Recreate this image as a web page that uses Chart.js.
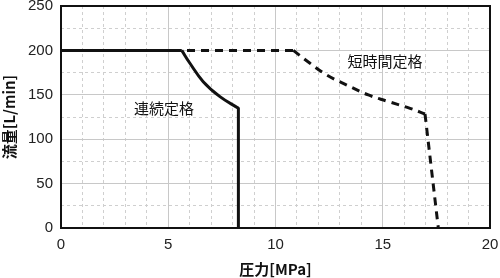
<!DOCTYPE html>
<html lang="ja">
<head>
  <meta charset="UTF-8" />
  <title>流量-圧力</title>
  <script src="https://cdn.jsdelivr.net/npm/chart.js"></script>
  <style>
    html, body { margin: 0; padding: 0; background: #fff; }
    #wrap { width: 500px; height: 278px; }
  </style>
</head>
<body>
<div id="wrap"><canvas id="chart" width="500" height="278"></canvas></div>
<script>
  // 連続定格 (continuous rating): flat part, curved part, drop
  const contFlatX = [0, 5.63];
  const contFlatY = [200, 200];
  const contCurveX = [5.63, 6.01, 6.63, 7.41, 8.27];
  const contCurveY = [200, 185.5, 164.8, 147.9, 134.8];
  const contDropX = [8.27, 8.27];
  const contDropY = [134.8, 0];
  // 短時間定格 (short-time rating)
  const shortFlatX = [0, 10.83];
  const shortFlatY = [200, 200];
  const shortCurveX = [10.83, 11.61, 12.39, 13.32, 14.33, 15.18, 16.27, 16.97];
  const shortCurveY = [200, 185.5, 172.3, 161, 149.8, 143, 134.8, 128.4];
  const shortDropX = [16.97, 17.59];
  const shortDropY = [128.4, 0];

  const xTicks = [0, 5, 10, 15, 20];
  const yTicks = [0, 50, 100, 150, 200, 250];
  const notes = [
    { text: '連続定格', x: 4.8, y: 135 },
    { text: '短時間定格', x: 15.1, y: 188 }
  ];

  const toPts = (xs, ys) => xs.map((x, i) => ({ x: x, y: ys[i] }));
  const tickFont = { family: 'Liberation Sans, Arial, sans-serif', size: 15 };
  const titleFont = { family: 'Noto Sans CJK JP, sans-serif', size: 15, weight: 'bold' };
  const noPad = s => { s.paddingTop = 0; s.paddingBottom = 0; s.paddingLeft = 0; s.paddingRight = 0; };

  const line = (xs, ys, dashed, tension) => ({
    data: toPts(xs, ys),
    showLine: true,
    borderColor: '#111',
    borderWidth: 3,
    borderDash: dashed ? [8, 6] : [],
    borderCapStyle: 'butt',
    borderJoinStyle: 'round',
    pointRadius: 0,
    tension: tension
  });

  // frame + text notes
  const framePlugin = {
    id: 'frame',
    afterDatasetsDraw(chart) {
      const { ctx, chartArea: a, scales } = chart;
      ctx.save();
      ctx.strokeStyle = '#111';
      ctx.lineWidth = 2;
      ctx.strokeRect(a.left, a.top, a.right - a.left, a.bottom - a.top);
      ctx.fillStyle = '#111';
      ctx.font = '15px "Noto Sans CJK JP", sans-serif';
      ctx.textAlign = 'center';
      ctx.textBaseline = 'middle';
      notes.forEach(n => ctx.fillText(n.text, scales.x.getPixelForValue(n.x), scales.y.getPixelForValue(n.y)));
      ctx.restore();
    }
  };

  new Chart(document.getElementById('chart'), {
    type: 'scatter',
    data: {
      datasets: [
        line(shortFlatX, shortFlatY, true, 0),
        line(shortCurveX, shortCurveY, true, 0.4),
        line(shortDropX, shortDropY, true, 0),
        line(contFlatX, contFlatY, false, 0),
        line(contCurveX, contCurveY, false, 0.4),
        line(contDropX, contDropY, false, 0)
      ]
    },
    options: {
      responsive: false,
      animation: false,
      layout: { padding: { top: 6, right: 10, left: 0, bottom: 0 } },
      plugins: { legend: { display: false }, tooltip: { enabled: false } },
      scales: {
        xMinor: {
          type: 'linear', position: 'bottom', min: 0, max: 20,
          ticks: { stepSize: 1, display: false },
          grid: { color: c => (c.tick && c.tick.value % 5 === 0) ? 'rgba(0,0,0,0)' : '#cfcfcf', lineWidth: 1, drawTicks: false },
          border: { display: false, dash: [3, 3] },
          afterFit: s => { s.height = 0; noPad(s); }
        },
        yMinor: {
          type: 'linear', position: 'left', min: 0, max: 250,
          ticks: { stepSize: 25, display: false },
          grid: { color: c => (c.tick && c.tick.value % 50 === 0) ? 'rgba(0,0,0,0)' : '#cfcfcf', lineWidth: 1, drawTicks: false },
          border: { display: false, dash: [3, 3] },
          afterFit: s => { s.width = 0; noPad(s); }
        },
        x: {
          type: 'linear', position: 'bottom', min: 0, max: 20,
          afterBuildTicks: s => { s.ticks = xTicks.map(v => ({ value: v })); },
          ticks: { color: '#222', font: tickFont, padding: 8 },
          grid: { color: '#c8c8c8', lineWidth: 1, drawTicks: false },
          border: { display: false },
          title: { display: true, text: '圧力[MPa]', color: '#111', font: titleFont, padding: { top: 0, bottom: 0 } },
          afterFit: s => { s.height = 50; noPad(s); }
        },
        y: {
          type: 'linear', position: 'left', min: 0, max: 250,
          afterBuildTicks: s => { s.ticks = yTicks.map(v => ({ value: v })); },
          ticks: { color: '#222', font: tickFont, padding: 8 },
          grid: { color: '#c8c8c8', lineWidth: 1, drawTicks: false },
          border: { display: false },
          title: { display: true, text: '流量[L/min]', color: '#111', font: titleFont, padding: { top: 0, bottom: 4 } },
          afterFit: s => { s.width = 61; noPad(s); }
        }
      }
    },
    plugins: [framePlugin]
  });
</script>
</body>
</html>
